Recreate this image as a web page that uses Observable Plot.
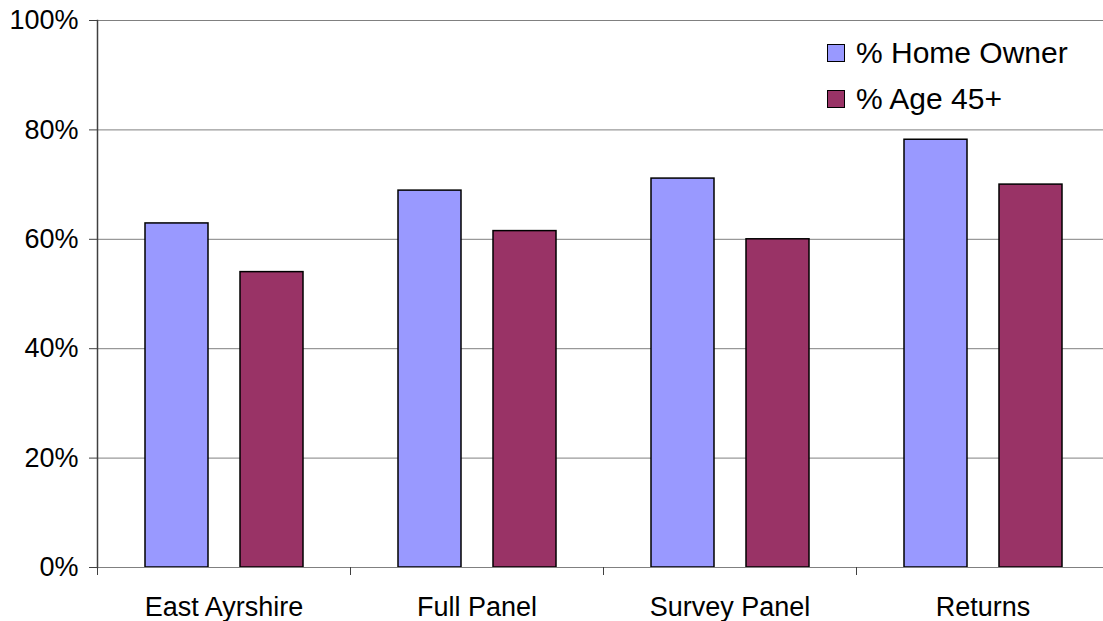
<!DOCTYPE html>
<html><head><meta charset="utf-8">
<script src="https://cdn.jsdelivr.net/npm/d3@7"></script>
<script src="https://cdn.jsdelivr.net/npm/@observablehq/plot@0.6"></script>
<style>
html,body{margin:0;padding:0;background:#fff;overflow:hidden;}
#wrap{position:relative;width:1103px;height:621px;overflow:hidden;}
.legend{position:absolute;left:827px;top:30px;font-family:"Liberation Sans",Arial,sans-serif;font-size:30px;color:#000;}
.legend .row{display:flex;align-items:center;height:46px;line-height:46px;white-space:nowrap;}
.legend .sw{width:16px;height:16px;border:1.5px solid #000;margin-right:11px;flex:none;}
</style></head><body><div id="wrap"></div>
<script>
const categories = ["East Ayrshire", "Full Panel", "Survey Panel", "Returns"];
const seriesNames = ["% Home Owner", "% Age 45+"];
const homeOwner = [0.629, 0.689, 0.711, 0.782];
const age45 = [0.54, 0.615, 0.60, 0.70];
const seriesColors = ["#9999FF", "#993366"];
const yTicks = [0, 0.2, 0.4, 0.6, 0.8, 1];
const yTickLabels = ["0%", "20%", "40%", "60%", "80%", "100%"];

const data = categories.flatMap((c, i) => [
  {category: c, series: seriesNames[0], value: homeOwner[i]},
  {category: c, series: seriesNames[1], value: age45[i]}
]);

const W = 1103, H = 621, mL = 97, mR = -6, mT = 20, mB = 54;
const groupWidth = (W - mL - mR) / categories.length;

const chart = Plot.plot({
  width: W, height: H,
  marginLeft: mL, marginRight: mR, marginTop: mT, marginBottom: mB,
  style: {fontFamily: "Liberation Sans, Arial, sans-serif", fontSize: "27px", color: "#000", background: "#fff", maxWidth: "none", overflow: "hidden"},
  fx: {domain: categories, padding: 0, label: null},
  x: {domain: seriesNames, paddingInner: 0.337, paddingOuter: 0.5, axis: null},
  y: {domain: [0, 1], label: null},
  color: {domain: seriesNames, range: seriesColors},
  marks: [
    Plot.ruleY(yTicks.slice(1), {stroke: "#808080"}),
    Plot.barY(data, {fx: "category", x: "series", y: "value", fill: "series", stroke: "#000", strokeWidth: 1.5}),
    Plot.ruleY([0], {stroke: "#808080"}),
    Plot.frame({anchor: "left", facetAnchor: "left", stroke: "#404040", strokeWidth: 1.5}),
    Plot.axisY({ticks: yTicks, tickFormat: d => yTickLabels[yTicks.indexOf(d)], tickSize: 8, tickPadding: 11, stroke: "#404040", label: null}),
    Plot.axisFx({anchor: "bottom", tickSize: 0, tickPadding: 29, label: null}),
    Plot.axisFx({anchor: "bottom", tickSize: 8, tickFormat: () => "", fill: "none", dx: -groupWidth / 2, stroke: "#404040", label: null})
  ]
});

const wrap = document.getElementById("wrap");
wrap.appendChild(chart);
const legend = document.createElement("div");
legend.className = "legend";
seriesNames.forEach((name, i) => {
  const row = document.createElement("div");
  row.className = "row";
  const sw = document.createElement("span");
  sw.className = "sw";
  sw.style.background = seriesColors[i];
  const t = document.createElement("span");
  t.textContent = name;
  row.appendChild(sw); row.appendChild(t);
  legend.appendChild(row);
});
wrap.appendChild(legend);
</script></body></html>
